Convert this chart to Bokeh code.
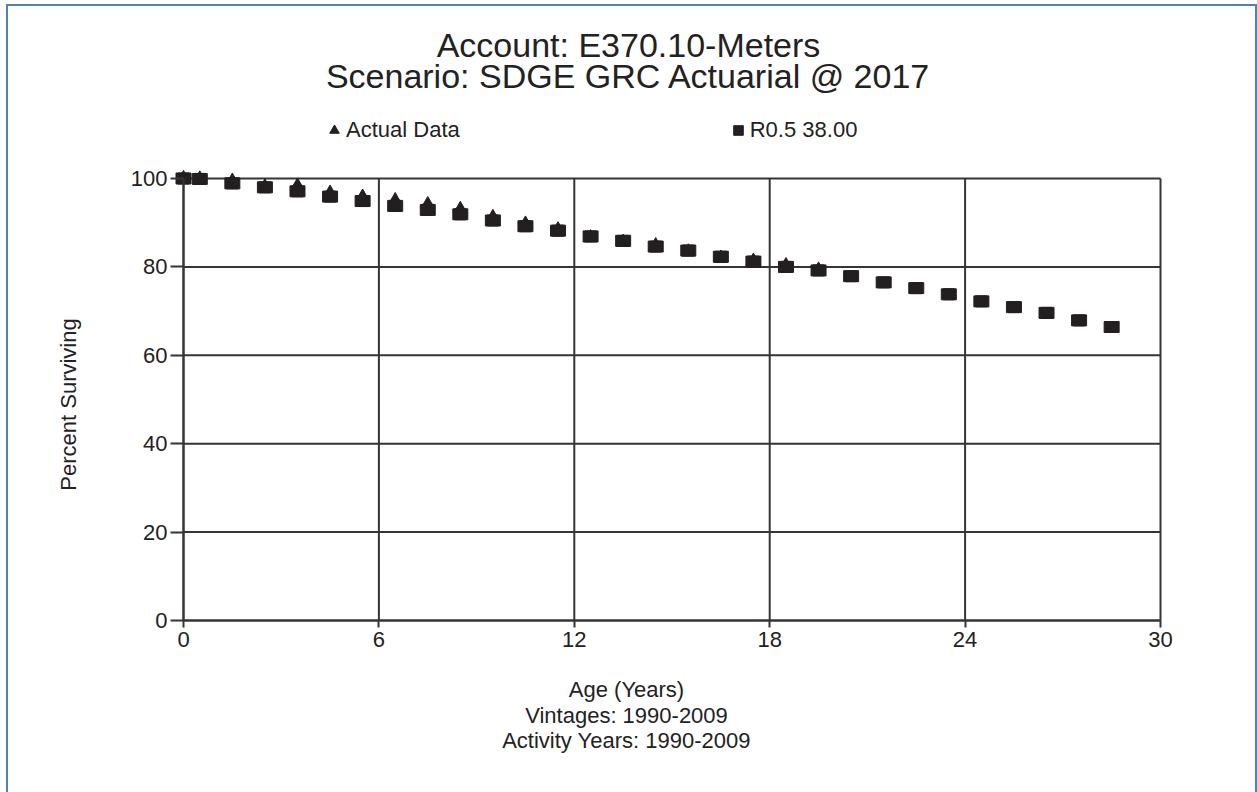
import math
from bokeh.plotting import figure
from bokeh.models import Range1d, FixedTicker, Legend, LegendItem, Label
from bokeh.embed import file_html
from bokeh.resources import INLINE

# ---------------- data ----------------
title_lines = ["Account: E370.10-Meters", "Scenario: SDGE GRC Actuarial @ 2017"]
x_label_lines = ["Age (Years)", "Vintages: 1990-2009", "Activity Years: 1990-2009"]
y_label = "Percent Surviving"
series_names = ["Actual Data", "R0.5 38.00"]
x_ticks = [0, 6, 12, 18, 24, 30]
y_ticks = [0, 20, 40, 60, 80, 100]

actual_age = [0, 0.5, 1.5, 2.5, 3.5, 4.5, 5.5, 6.5, 7.5, 8.5, 9.5, 10.5,
              11.5, 12.5, 13.5, 14.5, 15.5, 16.5, 17.5, 18.5, 19.5]
actual_pct = [100.0, 99.9, 99.4, 98.1, 98.3, 96.7, 95.8, 95.0, 94.1, 93.0, 91.2, 89.7,
              88.4, 86.6, 85.6, 84.8, 83.4, 82.0, 81.3, 80.3, 79.3]

curve_age = [0, 0.5, 1.5, 2.5, 3.5, 4.5, 5.5, 6.5, 7.5, 8.5, 9.5, 10.5, 11.5, 12.5, 13.5,
             14.5, 15.5, 16.5, 17.5, 18.5, 19.5, 20.5, 21.5, 22.5, 23.5, 24.5, 25.5, 26.5,
             27.5, 28.5]
curve_pct = [100.0, 99.9, 98.9, 98.0, 97.1, 95.9, 94.9, 93.8, 92.9, 91.9, 90.5, 89.2, 88.2,
             86.9, 85.9, 84.6, 83.7, 82.3, 81.2, 80.0, 79.2, 77.9, 76.5, 75.2, 73.8, 72.2,
             70.9, 69.6, 67.9, 66.4]

# ---------------- layout / style ----------------
W, H = 1257, 792
PL, PR, PT, PB = 183, 1160, 178, 620          # plot box in page pixels
FONT = "Liberation Sans"
INK = "#231f20"
TXT = "#222222"
GRID = "#353535"
FRAME_BLUE = "#4f81bd"

x0, x1 = x_ticks[0], x_ticks[-1]
y0, y1 = y_ticks[0], y_ticks[-1]
kx = (PR - PL) / (x1 - x0)
ky = (PB - PT) / (y1 - y0)


def px2x(px):
    return x0 + (px - PL) / kx


def py2y(py):
    return y0 + (PB - py) / ky


p = figure(width=W, height=H, output_backend="svg", toolbar_location=None,
           x_range=Range1d(px2x(0), px2x(W)), y_range=Range1d(py2y(H), py2y(0)),
           min_border_left=0, min_border_right=0, min_border_top=0, min_border_bottom=0)
p.styles = {"box-shadow": f"inset 6px 4px 0 0 #ffffff, inset 8px 6px 0 0 {FRAME_BLUE}, "
                          f"inset -2px 0 0 0 {FRAME_BLUE}"}
p.background_fill_color = None
p.border_fill_color = None
p.outline_line_color = None
p.xgrid.visible = False
p.ygrid.visible = False

# grid lines and plot box, at the tick values
p.segment(x0=x_ticks, y0=[y0] * len(x_ticks), x1=x_ticks, y1=[y1] * len(x_ticks),
          line_color=GRID, line_width=2)
p.segment(x0=[x0] * len(y_ticks), y0=y_ticks, x1=[x1] * len(y_ticks), y1=y_ticks,
          line_color=GRID, line_width=2)

# axes drawn at the data origin
xa, ya = p.xaxis[0], p.yaxis[0]
xa.fixed_location = y0
ya.fixed_location = x0
xa.bounds = (x0, x1)
ya.bounds = (y0, y1)
for ax, t in ((xa, x_ticks), (ya, y_ticks)):
    ax.ticker = FixedTicker(ticks=t)
    ax.axis_line_color = GRID
    ax.axis_line_width = 2
    ax.major_tick_line_color = GRID
    ax.major_tick_line_width = 2
    ax.major_tick_in = 0
    ax.minor_tick_line_color = None
    ax.major_label_text_font = FONT
    ax.major_label_text_font_size = "22px"
    ax.major_label_text_color = TXT
xa.major_tick_out = 7
xa.major_label_standoff = 4
ya.major_tick_out = 13
ya.major_label_standoff = 3

# ---------------- marks ----------------
r_tri = p.scatter(actual_age, actual_pct, marker="triangle", size=14,
                  fill_color=INK, line_color=INK)
r_sq = p.scatter(curve_age, curve_pct, marker="square", size=11,
                 fill_color=INK, line_color=INK)
p.rect(curve_age, curve_pct, width=15, height=11, width_units="screen",
       height_units="screen", fill_color=INK, line_color=INK)

# ---------------- legend ----------------
legend = Legend(items=[LegendItem(label=series_names[0], renderers=[r_tri]),
                       LegendItem(label=series_names[1], renderers=[r_sq])],
                location=(322, H - 143), orientation="horizontal", padding=0, margin=0,
                spacing=266, border_line_color=None, background_fill_alpha=0,
                glyph_width=24, glyph_height=24, label_height=24, label_standoff=0,
                label_text_font=FONT, label_text_font_size="22px", label_text_color=TXT)
p.add_layout(legend, "center")

# ---------------- texts ----------------
for txt, py in zip(title_lines, (44, 75)):
    p.add_layout(Label(x=px2x(628), y=py2y(py), text=txt, text_align="center",
                       text_baseline="middle", text_font=FONT, text_font_size="34px",
                       text_color=TXT))
for txt, py in zip(x_label_lines, (689, 715, 740)):
    p.add_layout(Label(x=px2x(626), y=py2y(py), text=txt, text_align="center",
                       text_baseline="middle", text_font=FONT, text_font_size="22px",
                       text_color=TXT))
p.add_layout(Label(x=px2x(68), y=py2y(404), text=y_label, angle=math.pi / 2,
                   text_align="center", text_baseline="middle", text_font=FONT,
                   text_font_size="22px", text_color=TXT))

open("out.html", "w").write(file_html(p, INLINE))
